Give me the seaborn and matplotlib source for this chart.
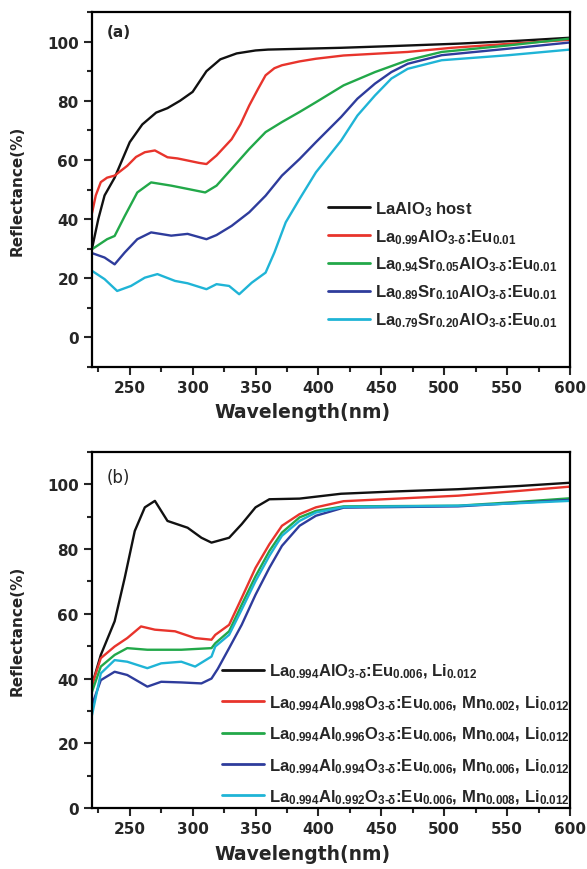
import numpy as np
import pandas as pd
import matplotlib
matplotlib.use("Agg")
import matplotlib.pyplot as plt
import seaborn as sns
from matplotlib.ticker import MultipleLocator

# ---- data (wavelength nm, reflectance %) ----
# panel (a)
wl_a_black = [220, 225, 230, 238, 245, 250, 260, 271, 280, 290, 300, 311, 322, 335, 350, 360, 380, 418, 460, 511, 560, 600]
r_a_black = [30, 40, 48, 54, 61, 66, 72, 76, 77.5, 80, 83, 90, 94, 96, 97, 97.3, 97.5, 97.9, 98.5, 99.3, 100.3, 101.3]

wl_a_red = [220, 223, 227, 232, 238, 248, 255, 262, 270, 280, 288, 296, 305, 311, 319, 331, 338, 345, 352, 358, 365, 371, 385, 398, 420, 471, 506, 550, 600]
r_a_red = [42, 48, 52.5, 54, 54.7, 58, 61, 62.6, 63.2, 60.9, 60.5, 59.8, 59, 58.6, 61.5, 67, 72, 78.4, 84, 88.6, 91, 92, 93.3, 94.2, 95.3, 96.5, 97.9, 99.2, 100.6]

wl_a_green = [220, 226, 232, 238, 246, 256, 267, 283, 296, 310, 319, 331, 345, 358, 371, 385, 398, 420, 445, 471, 498, 551, 600]
r_a_green = [29.8, 31.5, 33.2, 34.3, 41, 49, 52.4, 51.3, 50.2, 49, 51.3, 57, 63.7, 69.4, 72.8, 76.2, 79.5, 85.2, 89.7, 93.7, 96.5, 98.7, 101]

wl_a_blue = [220, 230, 238, 246, 256, 267, 283, 296, 311, 319, 331, 345, 358, 371, 385, 398, 418, 431, 445, 458, 471, 498, 551, 600]
r_a_blue = [28.5, 27, 24.7, 28.7, 33.2, 35.5, 34.4, 35, 33.2, 34.6, 37.7, 42.3, 47.9, 54.7, 60.3, 66, 74.5, 80.7, 85.8, 89.7, 92.5, 95.4, 97.6, 99.7]

wl_a_cyan = [220, 230, 240, 251, 262, 272, 286, 296, 311, 319, 329, 337, 347, 358, 365, 374, 385, 398, 418, 431, 445, 458, 471, 498, 551, 600]
r_a_cyan = [22.5, 19.7, 15.7, 17.4, 20.2, 21.4, 19.1, 18.3, 16.3, 18, 17.4, 14.6, 18.5, 21.9, 28.7, 38.9, 46.8, 55.8, 66.5, 75, 81.8, 87.5, 90.8, 93.7, 95.4, 97.3]

# panel (b)
wl_b_black = [220, 227, 238, 246, 254, 262, 270, 280, 296, 307, 315, 329, 339, 350, 361, 385, 418, 460, 511, 560, 600]
r_b_black = [38, 47.3, 57.7, 71.1, 85.6, 92.9, 94.9, 88.7, 86.6, 83.5, 82, 83.5, 87.7, 92.9, 95.4, 95.6, 97.1, 97.8, 98.5, 99.5, 100.5]

wl_b_red = [220, 227, 238, 248, 259, 270, 286, 302, 315, 318, 329, 339, 350, 361, 371, 385, 398, 420, 511, 560, 600]
r_b_red = [38, 46.3, 49.9, 52.5, 56.1, 55.1, 54.6, 52.5, 52, 53.5, 56.6, 64.9, 74.2, 81.5, 87.2, 90.8, 92.9, 94.8, 96.5, 98, 99.3]

wl_b_green = [220, 227, 238, 248, 264, 275, 291, 315, 318, 329, 339, 350, 361, 371, 385, 398, 420, 511, 560, 600]
r_b_green = [35.9, 43.7, 47.3, 49.4, 48.9, 48.9, 48.9, 49.4, 50.9, 54.6, 62.8, 71.6, 79.4, 85.1, 89.8, 91.8, 93.2, 93.4, 94.6, 95.7]

wl_b_blue = [220, 227, 238, 248, 264, 275, 291, 307, 315, 320, 329, 339, 350, 361, 371, 385, 398, 420, 511, 560, 600]
r_b_blue = [31.8, 39.5, 42.1, 41.1, 37.5, 39, 38.8, 38.5, 40, 43, 49.4, 56.6, 65.9, 74.2, 81, 87.2, 90.3, 92.8, 93.2, 94.3, 95.2]

wl_b_cyan = [220, 227, 238, 248, 264, 275, 291, 302, 315, 318, 329, 339, 350, 361, 371, 385, 398, 420, 511, 560, 600]
r_b_cyan = [28.7, 41.6, 45.7, 45.2, 43.2, 44.7, 45.2, 43.7, 46.8, 49.9, 53.5, 61.3, 70.1, 77.9, 84.1, 88.7, 91.3, 93, 93.4, 94.2, 94.9]

labels_a = [
    r"LaAlO$_{3}$ host",
    r"La$_{0.99}$AlO$_{3\text{-}\delta}$:Eu$_{0.01}$",
    r"La$_{0.94}$Sr$_{0.05}$AlO$_{3\text{-}\delta}$:Eu$_{0.01}$",
    r"La$_{0.89}$Sr$_{0.10}$AlO$_{3\text{-}\delta}$:Eu$_{0.01}$",
    r"La$_{0.79}$Sr$_{0.20}$AlO$_{3\text{-}\delta}$:Eu$_{0.01}$",
]
labels_b = [
    r"La$_{0.994}$AlO$_{3\text{-}\delta}$:Eu$_{0.006}$, Li$_{0.012}$",
    r"La$_{0.994}$Al$_{0.998}$O$_{3\text{-}\delta}$:Eu$_{0.006}$, Mn$_{0.002}$, Li$_{0.012}$",
    r"La$_{0.994}$Al$_{0.996}$O$_{3\text{-}\delta}$:Eu$_{0.006}$, Mn$_{0.004}$, Li$_{0.012}$",
    r"La$_{0.994}$Al$_{0.994}$O$_{3\text{-}\delta}$:Eu$_{0.006}$, Mn$_{0.006}$, Li$_{0.012}$",
    r"La$_{0.994}$Al$_{0.992}$O$_{3\text{-}\delta}$:Eu$_{0.006}$, Mn$_{0.008}$, Li$_{0.012}$",
]
colors = ["#111111", "#e8342c", "#22a849", "#2e3c9c", "#1fb4d6"]

# long tables for seaborn
def make_df(pairs, labels):
    parts = []
    for (wl, r), lab in zip(pairs, labels):
        parts.append(pd.DataFrame({"wl": wl, "R": r, "sample": lab}))
    return pd.concat(parts, ignore_index=True)

df_a = make_df([(wl_a_black, r_a_black), (wl_a_red, r_a_red), (wl_a_green, r_a_green),
                (wl_a_blue, r_a_blue), (wl_a_cyan, r_a_cyan)], labels_a)
df_b = make_df([(wl_b_black, r_b_black), (wl_b_red, r_b_red), (wl_b_green, r_b_green),
                (wl_b_blue, r_b_blue), (wl_b_cyan, r_b_cyan)], labels_b)

sns.set_style("ticks")
plt.rcParams["font.family"] = ["DejaVu Sans"]
plt.rcParams["font.weight"] = "bold"
plt.rcParams["mathtext.fontset"] = "custom"
plt.rcParams["mathtext.rm"] = "Liberation Sans:bold"
plt.rcParams["mathtext.bf"] = "Liberation Sans:bold"
plt.rcParams["mathtext.it"] = "Liberation Sans:bold"
plt.rcParams["mathtext.default"] = "bf"
plt.rcParams["axes.linewidth"] = 1.6

leg_font = {"family": "Liberation Sans", "weight": "bold", "size": 12}

fig = plt.figure(figsize=(5.87, 8.70), dpi=100)
W, H = 587, 870
ax_a = fig.add_axes([92 / W, 1 - 368 / H, 478 / W, 355 / H])
ax_b = fig.add_axes([92 / W, 1 - 809 / H, 478 / W, 356 / H])

for ax, df, labels, ylim in [(ax_a, df_a, labels_a, (-10, 110)), (ax_b, df_b, labels_b, (0, 110))]:
    sns.lineplot(data=df, x="wl", y="R", hue="sample", hue_order=labels,
                 palette=colors, linewidth=1.7, sort=False, ax=ax, legend=False)
    ax.set_xlim(220, 600)
    ax.set_ylim(*ylim)
    ax.xaxis.set_major_locator(MultipleLocator(50))
    ax.xaxis.set_minor_locator(MultipleLocator(25))
    ax.yaxis.set_major_locator(MultipleLocator(20))
    ax.yaxis.set_minor_locator(MultipleLocator(10))
    ax.tick_params(which="major", direction="out", length=6, width=1.5, labelsize=11)
    ax.tick_params(which="minor", direction="out", length=3.5, width=1.5)
    for sp in ax.spines.values():
        sp.set_visible(True)
        sp.set_color("black")
    ax.set_xlabel("Wavelength(nm)", fontsize=13.5, fontweight="bold")
    ax.set_ylabel("Reflectance(%)", fontsize=11, fontweight="bold")
    ax.xaxis.set_label_coords(0.44, -0.1)
    ax.yaxis.set_label_coords(-0.14, 0.5)
    handles = [plt.Line2D([], [], color=c, linewidth=2) for c in colors]
    if ax is ax_a:
        ax.legend(handles, labels, loc="upper left", bbox_to_anchor=(328 / W, 1 - 200 / H),
                  bbox_transform=fig.transFigure, frameon=False, prop=leg_font,
                  handlelength=2.5, handletextpad=0.3, labelspacing=0.55, borderpad=0, borderaxespad=0)
    else:
        ax.legend(handles, labels, loc="upper left", bbox_to_anchor=(222 / W, 1 - 663 / H),
                  bbox_transform=fig.transFigure, frameon=False, prop=leg_font,
                  handlelength=2.5, handletextpad=0.3, labelspacing=0.78, borderpad=0, borderaxespad=0)

ax_a.text(0.03, 0.965, "(a)", transform=ax_a.transAxes, fontsize=11, fontweight="bold", va="top")
ax_b.text(0.03, 0.955, "(b)", transform=ax_b.transAxes, fontsize=12, fontweight="normal", va="top")

fig.savefig("out.png", dpi=100)
